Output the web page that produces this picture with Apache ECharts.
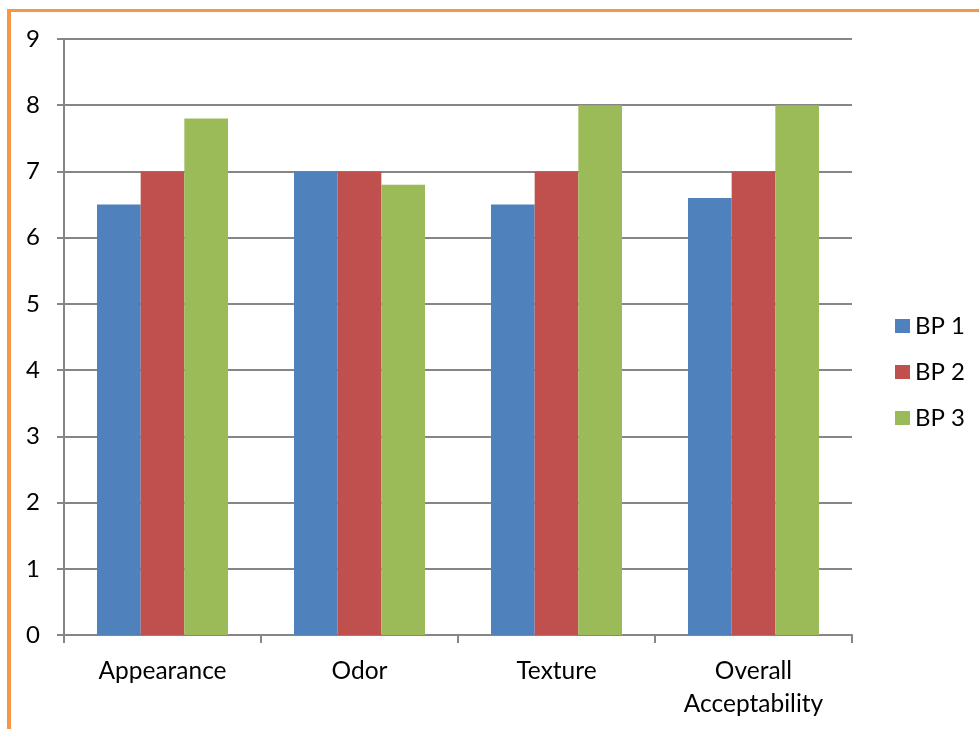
<!DOCTYPE html>
<html>
<head>
<meta charset="utf-8">
<script src="https://cdn.jsdelivr.net/npm/echarts@6/dist/echarts.min.js"></script>
<style>
  html, body { margin: 0; padding: 0; background: #ffffff; }
  #wrap { position: relative; width: 979px; height: 729px; overflow: hidden; }
  #chart { position: absolute; left: 0; top: 0; width: 979px; height: 729px; }
  #frame {
    position: absolute; left: 7px; top: 9px; right: -10px; bottom: -10px;
    border-left: 4px solid #F79646; border-top: 3px solid #F79646;
    pointer-events: none;
  }
</style>
</head>
<body>
<div id="wrap">
  <div id="chart"></div>
  <div id="frame"></div>
</div>
<script>
// Sensory scores of three product batches
const categories = ['Appearance', 'Odor', 'Texture', 'Overall\nAcceptability'];
const seriesNames = ['BP 1', 'BP 2', 'BP 3'];
const bp1 = [6.5, 7.0, 6.5, 6.6];
const bp2 = [7.0, 7.0, 7.0, 7.0];
const bp3 = [7.8, 6.8, 8.0, 8.0];
const yTicks = { min: 0, max: 9, interval: 1 };

const colors = ['#4F81BD', '#C0504D', '#9BBB59'];
const font = 'Lato, "Noto Sans", sans-serif';
const grey = '#868686';

const chart = echarts.init(document.getElementById('chart'), null, { renderer: 'canvas' });

chart.setOption({
  animation: false,
  color: colors,
  textStyle: { fontFamily: font, color: '#000' },
  grid: { left: 64, right: 127, top: 39, bottom: 94, containLabel: false },
  legend: {
    orient: 'vertical',
    left: 895,
    top: 314,
    padding: 0,
    itemWidth: 15,
    itemHeight: 14,
    itemGap: 22,
    icon: 'rect',
    textStyle: { fontFamily: font, fontSize: 24, color: '#000' },
    data: seriesNames
  },
  xAxis: {
    type: 'category',
    data: categories,
    axisLine: { show: true, lineStyle: { color: grey, width: 2 } },
    axisTick: { show: true, length: 8, lineStyle: { color: grey, width: 2 } },
    axisLabel: {
      margin: 20,
      fontFamily: font,
      fontSize: 24.5,
      lineHeight: 33,
      color: '#000',
      interval: 0
    },
    splitLine: { show: false }
  },
  yAxis: {
    type: 'value',
    min: yTicks.min,
    max: yTicks.max,
    interval: yTicks.interval,
    axisLine: { show: true, lineStyle: { color: grey, width: 2 } },
    axisTick: { show: true, length: 7, lineStyle: { color: grey, width: 2 } },
    axisLabel: { margin: 24, fontFamily: font, fontSize: 24, color: '#000' },
    splitLine: { show: true, lineStyle: { color: grey, width: 2 } }
  },
  series: [
    { name: seriesNames[0], type: 'bar', data: bp1, barGap: '0%', barCategoryGap: '33.5%' },
    { name: seriesNames[1], type: 'bar', data: bp2, barGap: '0%', barCategoryGap: '33.5%' },
    { name: seriesNames[2], type: 'bar', data: bp3, barGap: '0%', barCategoryGap: '33.5%' }
  ]
});
</script>
</body>
</html>
